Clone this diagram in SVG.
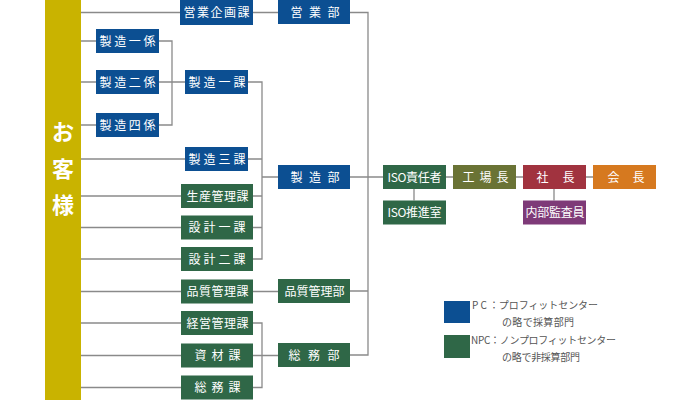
<svg xmlns="http://www.w3.org/2000/svg" width="700" height="400" viewBox="0 0 700 400">
<style>
.b{fill:#0c4f92}.g{fill:#2f6747}.o{fill:#6a7335}.r{fill:#a1333f}.p{fill:#7e3a78}.a{fill:#d6791f}
.t{font-family:"Noto Sans CJK JP","Noto Sans",sans-serif;font-size:12px;fill:#fff}
.c{stroke:#8a8a8a;stroke-width:1.3;fill:none}
.l{font-family:"Noto Sans CJK JP","Noto Sans",sans-serif;font-size:10px;fill:#555}
.k{font-family:"Noto Sans CJK JP",sans-serif;font-size:22px;font-weight:bold;fill:#fff}
</style>
<rect width="700" height="400" fill="#fff"/>
<g id="customer"><rect x="45" y="0" width="36" height="400" fill="#c9b300"/>
<text class="k" x="63" y="140" text-anchor="middle">お</text>
<text class="k" x="63" y="177" text-anchor="middle">客</text>
<text class="k" x="63" y="213" text-anchor="middle">様</text></g>
<g id="connectors" class="c">
<path d="M81 12.5H180M81 41H96M81 82H96M81 125H96M81 159H185M81 196H181M81 227.5H181M81 259H181M81 291.5H181M81 323H181M81 355.5H181M81 387.5H181"/>
<path d="M253 12.5H278M159 41H172V125H159M159 82H185M248 82H262V259H253M248 159H262M253 196H262M253 227.5H262M262 177H278M253 291.5H278M253 323H262V387.5H253M253 355.5H278"/>
<path d="M350 12.5H368V355H350M350 291H368M350 177H383M446 177H453M516 177H523M586 177H593M414 189V200.5M554 189V200.5"/>
</g>
<g id="eigyo-kikaku"><rect class="b" x="180" y="0" width="73" height="25"/><text class="t" x="183.5" y="17" textLength="66" lengthAdjust="spacing">営業企画課</text></g>
<g id="seizo-1kakari"><rect class="b" x="96" y="29" width="63" height="24"/><text class="t" x="99.5" y="45.5" textLength="56" lengthAdjust="spacing">製造一係</text></g>
<g id="seizo-2kakari"><rect class="b" x="96" y="70" width="63" height="24"/><text class="t" x="99.5" y="86.5" textLength="56" lengthAdjust="spacing">製造二係</text></g>
<g id="seizo-4kakari"><rect class="b" x="96" y="113" width="63" height="24"/><text class="t" x="99.5" y="129.5" textLength="56" lengthAdjust="spacing">製造四係</text></g>
<g id="seizo-1ka"><rect class="b" x="185" y="70" width="63" height="24"/><text class="t" x="188.5" y="86.5" textLength="57" lengthAdjust="spacing">製造一課</text></g>
<g id="seizo-3ka"><rect class="b" x="185" y="147" width="63" height="24"/><text class="t" x="188.5" y="163.5" textLength="57" lengthAdjust="spacing">製造三課</text></g>
<g id="seisan-kanri"><rect class="g" x="181" y="184" width="72" height="24"/><text class="t" x="186.5" y="200.5" textLength="62" lengthAdjust="spacing">生産管理課</text></g>
<g id="sekkei-1ka"><rect class="g" x="181" y="215.5" width="72" height="24"/><text class="t" x="188.5" y="232" textLength="57" lengthAdjust="spacing">設計一課</text></g>
<g id="sekkei-2ka"><rect class="g" x="181" y="247" width="72" height="24"/><text class="t" x="188.5" y="263.5" textLength="57" lengthAdjust="spacing">設計二課</text></g>
<g id="hinshitsu-ka"><rect class="g" x="181" y="279.5" width="72" height="24"/><text class="t" x="186.5" y="296" textLength="62" lengthAdjust="spacing">品質管理課</text></g>
<g id="keiei-kanri"><rect class="g" x="181" y="311" width="72" height="24"/><text class="t" x="186.5" y="327.5" textLength="62" lengthAdjust="spacing">経営管理課</text></g>
<g id="shizai"><rect class="g" x="181" y="343.5" width="72" height="24"/><text class="t" x="194.5" y="360" textLength="46" lengthAdjust="spacing">資材課</text></g>
<g id="somu-ka"><rect class="g" x="181" y="375.5" width="72" height="24"/><text class="t" x="194.5" y="392" textLength="46" lengthAdjust="spacing">総務課</text></g>
<g id="eigyo-bu"><rect class="b" x="278" y="0" width="72" height="24"/><text class="t" x="290.5" y="16.5" textLength="49" lengthAdjust="spacing">営業部</text></g>
<g id="seizo-bu"><rect class="b" x="278" y="165" width="72" height="24"/><text class="t" x="290.5" y="181.5" textLength="49" lengthAdjust="spacing">製造部</text></g>
<g id="hinshitsu-bu"><rect class="g" x="278" y="279" width="72" height="24"/><text class="t" x="284.5" y="295.5" textLength="60" lengthAdjust="spacing">品質管理部</text></g>
<g id="somu-bu"><rect class="g" x="278" y="343" width="72" height="24"/><text class="t" x="288.5" y="359.5" textLength="51" lengthAdjust="spacing">総務部</text></g>
<g id="iso-sekinin"><rect class="g" x="383" y="165" width="63" height="24"/><text class="t" x="387.5" y="181.5" textLength="54" lengthAdjust="spacing">ISO責任者</text></g>
<g id="iso-suishin"><rect class="g" x="383" y="200.5" width="63" height="24"/><text class="t" x="387.5" y="217" textLength="54" lengthAdjust="spacing">ISO推進室</text></g>
<g id="kojocho"><rect class="o" x="453" y="165" width="63" height="24"/><text class="t" x="462.5" y="181.5" textLength="46" lengthAdjust="spacing">工場長</text></g>
<g id="shacho"><rect class="r" x="523" y="165" width="63" height="24"/><text class="t" x="536.5" y="181.5" textLength="38" lengthAdjust="spacing">社長</text></g>
<g id="kaicho"><rect class="a" x="593" y="165" width="63" height="24"/><text class="t" x="607.5" y="181.5" textLength="37" lengthAdjust="spacing">会長</text></g>
<g id="naibu-kansa"><rect class="p" x="523" y="200.5" width="63" height="24"/><text class="t" x="525.5" y="217" textLength="59" lengthAdjust="spacing">内部監査員</text></g>
<g id="legend">
<rect class="b" x="444" y="301" width="26" height="22"/>
<rect class="g" x="444" y="335" width="26" height="23"/>
<text class="l" x="472" y="309" textLength="126" lengthAdjust="spacing">P C ：プロフィットセンター</text>
<text class="l" x="502" y="326" textLength="72" lengthAdjust="spacing">の略で採算部門</text>
<text class="l" x="471" y="344" textLength="145" lengthAdjust="spacing">NPC：ノンプロフィットセンター</text>
<text class="l" x="502" y="361" textLength="78" lengthAdjust="spacing">の略で非採算部門</text>
</g>
</svg>
